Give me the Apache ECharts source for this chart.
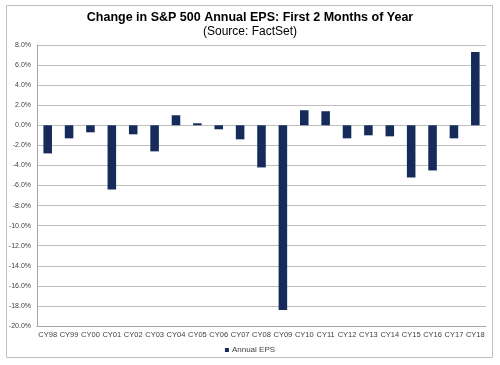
<!DOCTYPE html>
<html><head><meta charset="utf-8">
<script src="https://cdn.jsdelivr.net/npm/echarts@6/dist/echarts.min.js"></script>
<style>html,body{margin:0;padding:0;background:#fff}#c{width:500px;height:365px}</style>
</head><body><div id="c"></div>
<script>
const categories = ['CY98','CY99','CY00','CY01','CY02','CY03','CY04','CY05','CY06','CY07','CY08','CY09','CY10','CY11','CY12','CY13','CY14','CY15','CY16','CY17','CY18'];
const annualEPS = [-2.8,-1.3,-0.7,-6.4,-0.9,-2.6,1.0,0.2,-0.4,-1.4,-4.2,-18.4,1.5,1.4,-1.3,-1.0,-1.1,-5.2,-4.5,-1.3,7.3];
const yMin = -20, yMax = 8, yStep = 2;
const titleText = 'Change in S&P 500 Annual EPS: First 2 Months of Year';
const subText = '(Source: FactSet)';
const seriesName = 'Annual EPS';

const chart = echarts.init(document.getElementById('c'), null, {renderer:'canvas'});
chart.setOption({
  animation:false,
  backgroundColor:'#fff',
  textStyle:{fontFamily:'Liberation Sans, Arial, sans-serif'},
  graphic:[{type:'rect',shape:{x:6.5,y:5.5,width:486,height:352},style:{fill:'none',stroke:'#bfbfbf',lineWidth:1},silent:true}],
  title:{text:titleText,subtext:subText,left:'center',top:6,itemGap:2,
    textStyle:{fontSize:12.5,fontWeight:'bold',color:'#000',fontFamily:'Liberation Sans, Arial, sans-serif'},
    subtextStyle:{fontSize:12,color:'#000',fontFamily:'Liberation Sans, Arial, sans-serif'}},
  legend:{data:[seriesName],bottom:6,left:'center',itemWidth:4,itemHeight:4,itemGap:2,
    textStyle:{fontSize:8,color:'#404040',padding:[0,0,0,-2]},icon:'rect'},
  grid:{left:37,right:14,top:45,bottom:39,containLabel:false},
  xAxis:{type:'category',data:categories,
    axisLine:{onZero:false,lineStyle:{color:'#a6a6a6'}},
    axisTick:{show:false},
    axisLabel:{fontSize:7.5,color:'#404040',margin:5,interval:0}},
  yAxis:{type:'value',min:yMin,max:yMax,interval:yStep,
    axisLine:{show:true,lineStyle:{color:'#a6a6a6'}},
    axisTick:{show:false},
    splitLine:{lineStyle:{color:'#bfbfbf'}},
    axisLabel:{fontSize:7,color:'#404040',margin:6,formatter:v=>v.toFixed(1)+'%'}},
  series:[{name:seriesName,type:'bar',data:annualEPS,barWidth:'40%',
    itemStyle:{color:'#172b5a'}}]
});
</script></body></html>
